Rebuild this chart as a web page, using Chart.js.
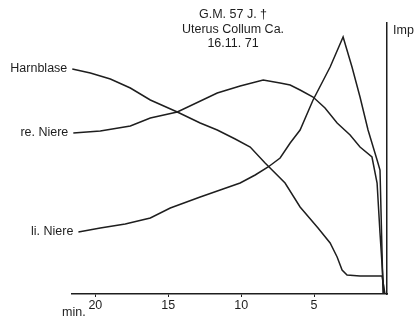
<!DOCTYPE html>
<html>
<head>
<meta charset="utf-8">
<script src="https://cdn.jsdelivr.net/npm/chart.js@4/dist/chart.umd.min.js"></script>
<style>
  html, body { margin: 0; padding: 0; background: #fff; }
  #wrap { width: 415px; height: 322px; }
</style>
</head>
<body>
<div id="wrap"><canvas id="canvas"></canvas></div>
<script>
// minutes before end (x axis runs 20 -> 0), impulses in arbitrary units
const titleLines = ["G.M. 57 J. \u2020", "Uterus Collum Ca.", "16.11. 71"];
const tickValues = [20, 15, 10, 5];

const harnblaseMin = [21.58, 20.34, 18.97, 17.60, 16.23, 14.38, 12.81, 11.64, 10.41, 9.38, 8.36, 6.99, 5.96, 4.73, 3.90, 3.42, 3.08, 2.74, 1.85, 0.34, 0.14];
const harnblaseImp = [225, 221, 215, 206, 194, 182, 171, 164, 155, 147, 131, 111, 87, 66, 51, 37, 24, 19, 18, 18, 0];

const reNiereMin = [21.51, 19.66, 17.60, 16.23, 14.38, 11.64, 10.07, 8.49, 7.33, 6.64, 5.96, 5.07, 4.25, 3.42, 2.53, 1.85, 1.03, 0.68, 0.48, 0.21];
const reNiereImp = [161, 163, 168, 176, 182, 201, 208, 214, 211, 209, 204, 197, 186, 171, 159, 147, 137, 111, 61, 0];

const liNiereMin = [21.16, 19.66, 17.95, 16.23, 14.86, 12.81, 11.44, 10.07, 9.04, 8.15, 7.33, 6.64, 5.96, 5.07, 3.90, 3.01, 2.40, 1.85, 1.30, 0.68, 0.48, 0.27];
const liNiereImp = [62, 66, 70, 76, 86, 97, 104, 111, 119, 127, 136, 151, 164, 194, 227, 257, 227, 197, 164, 134, 124, 0];

const seriesNames = ["Harnblase", "re. Niere", "li. Niere"];

const ink = "#1e1e1e";
const font = "'Liberation Sans', Arial, sans-serif";

function pts(xs, ys) {
  return xs.map((x, i) => ({ x: x, y: ys[i] }));
}

const textPlugin = {
  id: "texts",
  afterDraw(chart) {
    const ctx = chart.ctx;
    const xs = chart.scales.x, ys = chart.scales.y;
    ctx.save();
    ctx.fillStyle = ink;
    ctx.font = "12.5px " + font;
    ctx.textBaseline = "middle";
    // series labels just left of each curve's start
    chart.data.datasets.forEach((ds) => {
      const p = ds.data[0];
      ctx.textAlign = "right";
      ctx.fillText(ds.label, xs.getPixelForValue(p.x) - 5, ys.getPixelForValue(p.y));
    });
    // title block
    ctx.textAlign = "center";
    titleLines.forEach((t, i) => ctx.fillText(t, 233, 15 + i * 14.5));
    // axis names
    ctx.textAlign = "left";
    ctx.fillText("Imp", xs.right + 6, ys.top + 8);
    ctx.fillText("min.", 62, 313);
    ctx.restore();
  }
};

new Chart(document.getElementById("canvas"), {
  type: "line",
  data: {
    datasets: [
      { label: seriesNames[0], data: pts(harnblaseMin, harnblaseImp) },
      { label: seriesNames[1], data: pts(reNiereMin, reNiereImp) },
      { label: seriesNames[2], data: pts(liNiereMin, liNiereImp) }
    ].map((d) => Object.assign(d, {
      borderColor: ink, borderWidth: 1.5, pointRadius: 0, tension: 0, fill: false
    }))
  },
  options: {
    responsive: true,
    maintainAspectRatio: false,
    animation: false,
    layout: { padding: { left: 72, top: 23, right: 0, bottom: 0 } },
    plugins: { legend: { display: false }, tooltip: { enabled: false } },
    scales: {
      x: {
        type: "linear",
        reverse: true,
        min: 0,
        max: 21.6,
        afterBuildTicks: (s) => { s.ticks = tickValues.map((v) => ({ value: v })); },
        afterFit: (s) => { s.height = 28; },
        grid: { display: true, drawOnChartArea: false, tickLength: 3, color: ink, lineWidth: 1 },
        border: { display: true, color: ink, width: 1.5 },
        ticks: { color: ink, font: { size: 12.5, family: font }, padding: 1, maxRotation: 0 }
      },
      y: {
        position: "right",
        min: 0,
        max: 271,
        afterFit: (s) => { s.width = 28; },
        grid: { display: false },
        border: { display: true, color: ink, width: 1.5 },
        ticks: { display: false }
      }
    }
  },
  plugins: [textPlugin]
});
</script>
</body>
</html>
